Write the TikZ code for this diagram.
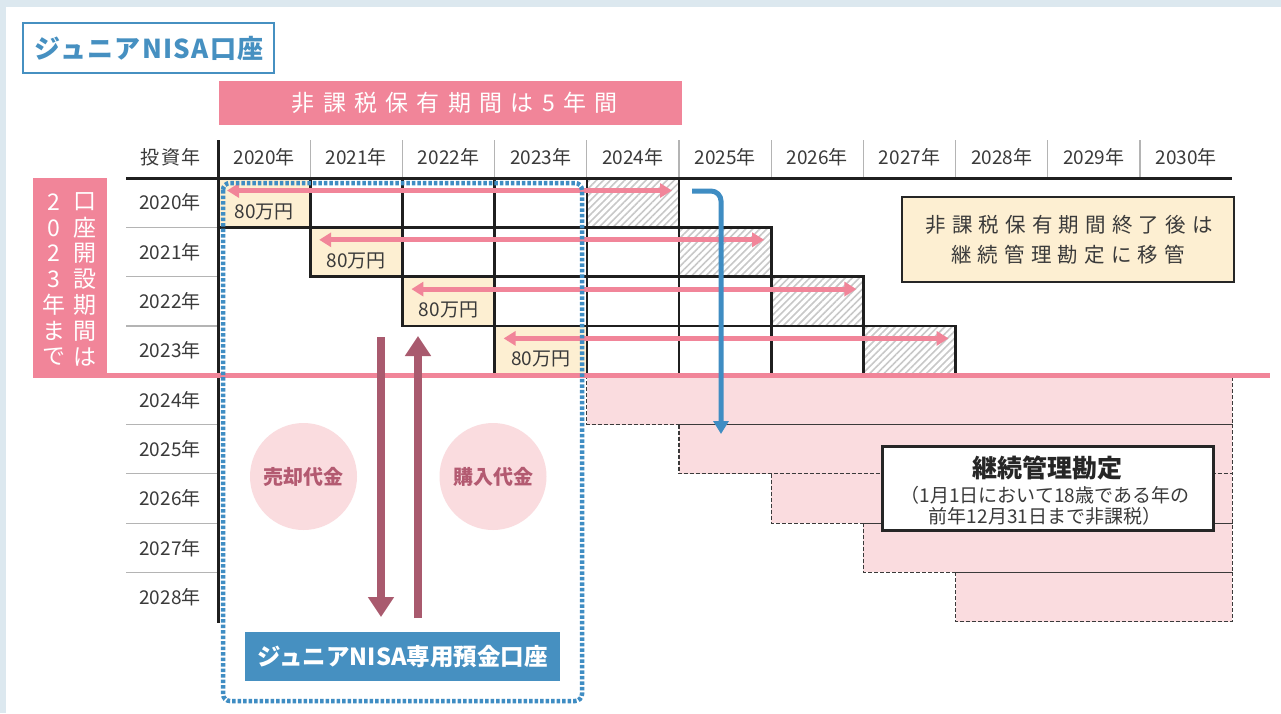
\documentclass[tikz,border=0pt]{standalone}
\usepackage{fontspec}
\setmainfont{Noto Sans CJK JP}
\usetikzlibrary{arrows.meta,patterns.meta}
\definecolor{bgblue}{HTML}{DCE8EF}
\definecolor{pinkM}{HTML}{F18599}
\definecolor{cream}{HTML}{FDEFD2}
\definecolor{lpink}{HTML}{FADCDF}
\definecolor{blueB}{HTML}{4690C1}
\definecolor{blueD}{HTML}{3F8DC3}
\definecolor{mauve}{HTML}{A95A6E}
\definecolor{mauveT}{HTML}{B35A71}
\definecolor{txt}{HTML}{3A3A3A}
\definecolor{hatchc}{HTML}{C8C8C8}
\definecolor{sepgray}{HTML}{B4B4B4}
\newcommand\fsz[2]{\fontsize{#1pt}{#2pt}\selectfont}
\begin{document}
\begin{tikzpicture}[x=1pt,y=-1pt,
  lbl/.style={inner sep=0pt,text=txt,font=\fsz{19}{22}},
  gridline/.style={draw=black!88,line width=2.6pt},
  dashbox/.style={draw=txt,line width=1.1pt,dash pattern=on 4pt off 2pt},
  pinkarrow/.style={draw=pinkM,line width=5pt,{Triangle[length=12pt,width=14pt]}-{Triangle[length=12pt,width=14pt]}},
  bluearrow/.style={draw=blueD,line width=5pt,-{Triangle[length=13pt,width=15pt]},rounded corners=10pt},
  mauvearrow/.style={draw=mauve,line width=8pt,-{Triangle[length=20pt,width=25pt]}},
  vchar/.style={inner sep=0pt,text=white,font=\fsz{23}{26}},
  circ/.style={circle,fill=lpink,minimum size=107pt,inner sep=0pt,text=mauveT,font=\bfseries\fsz{20}{24}},
]
\useasboundingbox (0,0) rectangle (1281,713);
\fill[bgblue] (0,0) rectangle (1281,713);
\fill[white] (6,7) rectangle (1281,713);

% continuous management regions
\foreach \r in {4,...,8}{
  \fill[lpink] ({218+92.2*\r},{178+49.3*\r}) rectangle ({218+92.2*11},{178+49.3*(\r+1)});
}
\foreach \r in {4,...,8}{
  \draw[dashbox] ({218+92.2*\r},{178+49.3*\r}) rectangle ({218+92.2*11},{178+49.3*(\r+1)});
}

% investment rows
\foreach \r in {0,...,3}{
  \fill[cream] ({218+92.2*\r},{178+49.3*\r}) rectangle ({218+92.2*(\r+1)},{178+49.3*(\r+1)});
  \fill[white] ({218+92.2*(\r+4)},{178+49.3*\r}) rectangle ({218+92.2*(\r+5)},{178+49.3*(\r+1)});
  \fill[pattern={Lines[angle=45,distance=5pt,line width=1.6pt]},pattern color=hatchc]
    ({218+92.2*(\r+4)},{178+49.3*\r}) rectangle ({218+92.2*(\r+5)},{178+49.3*(\r+1)});
}
\foreach \r in {0,...,3}{
  \draw[gridline] ({218+92.2*\r},{178+49.3*\r}) rectangle ({218+92.2*(\r+5)},{178+49.3*(\r+1)});
  \foreach \k in {1,...,4}{
    \draw[gridline] ({218+92.2*(\r+\k)},{178+49.3*\r}) -- ({218+92.2*(\r+\k)},{178+49.3*(\r+1)});
  }
  \node[lbl] (amt\r) at ({218+92.2*(\r+0.5)},{178+49.3*\r+33.5}) {80万円};
}

% header
\foreach \k in {1,...,10}{
  \draw[sepgray,line width=1.2pt] ({218+92.2*\k},140) -- ({218+92.2*\k},178);
}
\foreach \y [count=\k from 0] in {2020,...,2030}{
  \node[lbl] (h\y) at ({218+92.2*(\k+0.5)},157) {\y{}年};
}
\node[lbl] (hinv) at (170,157) {\addfontfeature{LetterSpace=8}投資年\kern-1.5pt};
\foreach \k in {1,...,8}{
  \draw[sepgray,line width=1.2pt] (126,{178+49.3*\k}) -- (218,{178+49.3*\k});
}
\foreach \y [count=\k from 0] in {2020,...,2028}{
  \node[lbl] (r\y) at (170,{178+49.3*(\k+0.5)}) {\y{}年};
}
\draw[black!88,line width=3pt] (126,178) -- (1232,178);
\draw[black!88,line width=3pt] (218,140) -- (218,623);

% left pink label and line
\fill[pinkM] (33,178) rectangle (107,376);
\draw[pinkM,line width=5pt] (33,375) -- (1270,375);
\foreach \c [count=\i from 0] in {2,0,2,3,年,ま,で}{
  \node[vchar] (vl\i) at (54,{202+25.8*\i}) {\c};
}
\foreach \c [count=\i from 0] in {口,座,開,設,期,間,は}{
  \node[vchar] (vr\i) at (85,{202+25.8*\i}) {\c};
}

% pink arrows
\foreach \r in {0,...,3}{
  \coordinate (pa\r) at ({218+92.2*\r+9},{178+49.3*\r+12.5});
  \coordinate (pb\r) at ({218+92.2*(\r+5)-7},{178+49.3*\r+12.5});
  \draw[pinkarrow] (pa\r) -- (pb\r);
}

% blue transfer arrow
\coordinate (ba) at (692,191);
\coordinate (bc) at (721,191);
\coordinate (bb) at (721,434);
\draw[bluearrow] (ba) -- (bc) -- (bb);

% title and banner
\node[draw=blueB,line width=2.5pt,minimum width=251pt,minimum height=50pt,inner sep=0pt,
  text=blueB,font=\bfseries\fsz{26}{30}] (title) at (148.5,48) {\addfontfeature{LetterSpace=5}ジュニアNISA口座\kern-1.3pt};
\node[fill=pinkM,minimum width=463pt,minimum height=44pt,inner sep=0pt,text=white,
  font=\fsz{23}{26}] (banner) at (450.5,103) {\addfontfeature{LetterSpace=36}非課税保有期間は5年間\kern-8.3pt};

% note box
\node[draw=black!85,line width=2.5pt,fill=cream,minimum width=332pt,minimum height=85pt,inner sep=0pt] (note) at (1068,239.5) {};
\node[lbl,font=\fsz{20.5}{24}] (note1) at (1066,225) {\addfontfeature{LetterSpace=30}非課税保有期間終了後は\kern-6pt};
\node[lbl,font=\fsz{20.5}{24}] (note2) at (1065,255) {\addfontfeature{LetterSpace=30}継続管理勘定に移管\kern-6pt};

% continuous management box
\node[draw=black!85,line width=3pt,fill=white,minimum width=331pt,minimum height=84pt,inner sep=0pt] (kei) at (1047.5,488) {};
\node[lbl,text=black!85,font=\bfseries\fsz{25}{28}] (keiT) at (1047.5,468) {継続管理勘定};
\node[lbl,font=\fsz{19}{21}] (kei1) at (1045,495) {（1月1日において18歳である年の};
\node[lbl,font=\fsz{19}{21}] (kei2) at (1045,516) {前年12月31日まで非課税）};

% circles and cash arrows
\node[circ] (sell) at (303.5,476.5) {売却代金};
\node[circ] (buy) at (493,476.5) {購入代金};
\coordinate (sd1) at (381,337);
\coordinate (sd2) at (381,617);
\draw[mauvearrow] (sd1) -- (sd2);
\coordinate (bu1) at (418,618);
\coordinate (bu2) at (418,336);
\draw[mauvearrow] (bu1) -- (bu2);

% account box
\node[fill=blueB,minimum width=315pt,minimum height=49pt,inner sep=0pt,text=white,
  font=\bfseries\fsz{23.5}{26}] (acct) at (402.5,656.5) {ジュニアNISA専用預金口座};

% dotted zone
\draw[blueD,line width=4.5pt,dash pattern=on 3.5pt off 2pt,rounded corners=7pt] (223,183) rectangle (582,701);
\end{tikzpicture}
\end{document}
